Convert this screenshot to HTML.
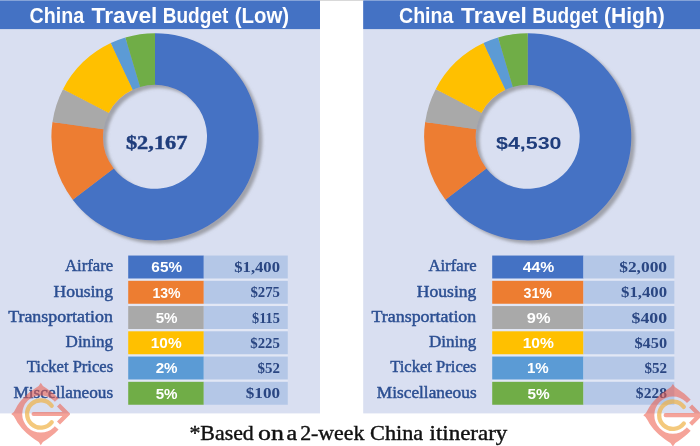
<!DOCTYPE html>
<html><head><meta charset="utf-8"><title>China Travel Budget</title>
<style>
html,body{margin:0;padding:0;}
body{width:700px;height:446px;background:#fff;position:relative;overflow:hidden;font-family:"Liberation Sans",sans-serif;}
svg{position:absolute;left:0;top:0;display:block;}
text{white-space:pre;}
.tt{font-family:"Liberation Sans",sans-serif;font-weight:bold;font-size:22.6px;fill:#fff;}
.lb{font-family:"Liberation Serif",serif;font-size:16.2px;fill:#2C4F92;stroke:#2C4F92;stroke-width:0.45px;}
.pc{font-family:"Liberation Sans",sans-serif;font-weight:bold;font-size:14px;fill:#fff;}
.vl{font-family:"Liberation Serif",serif;font-weight:bold;font-size:13.7px;fill:#2A4682;}
.ct{font-family:"Liberation Sans",sans-serif;font-weight:bold;font-size:17px;fill:#1F3D7C;}
.cs{font-family:"Liberation Serif",serif;font-weight:bold;font-size:18.2px;fill:#1F3D7C;stroke:#1F3D7C;stroke-width:0.4px;}
.ft{font-family:"Liberation Serif",serif;font-size:20.5px;fill:#111;stroke:#111;stroke-width:0.4px;}
</style></head>
<body>
<svg width="700" height="446" viewBox="0 0 700 446">
<defs>
<filter id="sh" x="-10%" y="-10%" width="125%" height="125%">
<feDropShadow dx="3.8" dy="3.2" stdDeviation="1.6" flood-color="#7c7c80" flood-opacity="0.62"/>
</filter>
<mask id="lm" maskUnits="userSpaceOnUse" x="-40" y="-40" width="80" height="80"><rect x="-40" y="-40" width="80" height="80" fill="#fff"/><path d="M0 0 L40 -35 V35Z" fill="#000"/></mask>
</defs>
<rect x="0" y="0" width="320" height="413.4" fill="#D9DFF1"/>
<rect x="363.2" y="0" width="336.8" height="413.4" fill="#D9DFF1"/>
<rect x="0" y="0" width="320" height="29.1" fill="#4472C4"/>
<rect x="363.2" y="0" width="336.8" height="29.1" fill="#4472C4"/>
<g filter="url(#sh)">
<path d="M155.00 33.20A103.6 103.6 0 1 1 72.72 199.75L113.70 168.40A52.0 52.0 0 1 0 155.00 84.80Z" fill="#4472C4"/>
<path d="M72.72 199.75A103.6 103.6 0 0 1 52.48 121.91L103.54 129.33A52.0 52.0 0 0 0 113.70 168.40Z" fill="#ED7D31"/>
<path d="M52.48 121.91A103.6 103.6 0 0 1 63.00 89.17L108.82 112.89A52.0 52.0 0 0 0 103.54 129.33Z" fill="#A9A9A9"/>
<path d="M63.00 89.17A103.6 103.6 0 0 1 110.81 43.10L132.82 89.77A52.0 52.0 0 0 0 108.82 112.89Z" fill="#FFC000"/>
<path d="M110.81 43.10A103.6 103.6 0 0 1 125.38 37.52L140.13 86.97A52.0 52.0 0 0 0 132.82 89.77Z" fill="#5B9BD5"/>
<path d="M125.38 37.52A103.6 103.6 0 0 1 155.00 33.20L155.00 84.80A52.0 52.0 0 0 0 140.13 86.97Z" fill="#70AD47"/>
</g>
<g filter="url(#sh)">
<path d="M527.70 33.20A103.6 103.6 0 1 1 445.42 199.75L486.40 168.40A52.0 52.0 0 1 0 527.70 84.80Z" fill="#4472C4"/>
<path d="M445.42 199.75A103.6 103.6 0 0 1 425.18 121.91L476.24 129.33A52.0 52.0 0 0 0 486.40 168.40Z" fill="#ED7D31"/>
<path d="M425.18 121.91A103.6 103.6 0 0 1 435.70 89.17L481.52 112.89A52.0 52.0 0 0 0 476.24 129.33Z" fill="#A9A9A9"/>
<path d="M435.70 89.17A103.6 103.6 0 0 1 483.51 43.10L505.52 89.77A52.0 52.0 0 0 0 481.52 112.89Z" fill="#FFC000"/>
<path d="M483.51 43.10A103.6 103.6 0 0 1 498.08 37.52L512.83 86.97A52.0 52.0 0 0 0 505.52 89.77Z" fill="#5B9BD5"/>
<path d="M498.08 37.52A103.6 103.6 0 0 1 527.70 33.20L527.70 84.80A52.0 52.0 0 0 0 512.83 86.97Z" fill="#70AD47"/>
</g>
<rect x="128.2" y="256.55" width="159.6" height="147.20" fill="#E2E7F5"/>
<rect x="128.2" y="255.55" width="75.6" height="22.95" fill="#4472C4"/>
<rect x="203.8" y="255.55" width="84.0" height="22.95" fill="#B4C7E7"/>
<rect x="128.2" y="280.80" width="75.6" height="22.95" fill="#ED7D31"/>
<rect x="203.8" y="280.80" width="84.0" height="22.95" fill="#B4C7E7"/>
<rect x="128.2" y="306.05" width="75.6" height="22.95" fill="#A9A9A9"/>
<rect x="203.8" y="306.05" width="84.0" height="22.95" fill="#B4C7E7"/>
<rect x="128.2" y="331.30" width="75.6" height="22.95" fill="#FFC000"/>
<rect x="203.8" y="331.30" width="84.0" height="22.95" fill="#B4C7E7"/>
<rect x="128.2" y="356.55" width="75.6" height="22.95" fill="#5B9BD5"/>
<rect x="203.8" y="356.55" width="84.0" height="22.95" fill="#B4C7E7"/>
<rect x="128.2" y="381.80" width="75.6" height="22.95" fill="#70AD47"/>
<rect x="203.8" y="381.80" width="84.0" height="22.95" fill="#B4C7E7"/>
<rect x="492.2" y="256.55" width="182.2" height="147.20" fill="#E2E7F5"/>
<rect x="492.2" y="255.55" width="91.3" height="22.95" fill="#4472C4"/>
<rect x="583.5" y="255.55" width="90.9" height="22.95" fill="#B4C7E7"/>
<rect x="492.2" y="280.80" width="91.3" height="22.95" fill="#ED7D31"/>
<rect x="583.5" y="280.80" width="90.9" height="22.95" fill="#B4C7E7"/>
<rect x="492.2" y="306.05" width="91.3" height="22.95" fill="#A9A9A9"/>
<rect x="583.5" y="306.05" width="90.9" height="22.95" fill="#B4C7E7"/>
<rect x="492.2" y="331.30" width="91.3" height="22.95" fill="#FFC000"/>
<rect x="583.5" y="331.30" width="90.9" height="22.95" fill="#B4C7E7"/>
<rect x="492.2" y="356.55" width="91.3" height="22.95" fill="#5B9BD5"/>
<rect x="583.5" y="356.55" width="90.9" height="22.95" fill="#B4C7E7"/>
<rect x="492.2" y="381.80" width="91.3" height="22.95" fill="#70AD47"/>
<rect x="583.5" y="381.80" width="90.9" height="22.95" fill="#B4C7E7"/>
<g opacity="0.999">
<text class="tt" transform="translate(29.51 22.90) scale(0.8699 1)">China</text>
<text class="tt" transform="translate(91.57 22.90) scale(1.0082 1)">Travel</text>
<text class="tt" transform="translate(162.66 22.90) scale(0.8440 1)">Budget</text>
<text class="tt" transform="translate(234.78 22.90) scale(0.9030 1)">(Low)</text>
<text class="tt" transform="translate(399.02 22.90) scale(0.8667 1)">China</text>
<text class="tt" transform="translate(461.07 22.90) scale(1.0082 1)">Travel</text>
<text class="tt" transform="translate(532.16 22.90) scale(0.8440 1)">Budget</text>
<text class="tt" transform="translate(604.05 22.90) scale(0.9310 1)">(High)</text>
<text class="lb" transform="translate(65.02 271.45) scale(1.0317 1)">Airfare</text>
<text class="lb" transform="translate(428.42 271.45) scale(1.0317 1)">Airfare</text>
<text class="lb" transform="translate(53.46 296.70) scale(1.0837 1)">Housing</text>
<text class="lb" transform="translate(416.86 296.70) scale(1.0837 1)">Housing</text>
<text class="lb" transform="translate(8.13 321.95) scale(1.1058 1)">Transportation</text>
<text class="lb" transform="translate(371.53 321.95) scale(1.1058 1)">Transportation</text>
<text class="lb" transform="translate(65.57 347.20) scale(1.0529 1)">Dining</text>
<text class="lb" transform="translate(428.97 347.20) scale(1.0529 1)">Dining</text>
<text class="lb" transform="translate(26.75 372.45) scale(1.0245 1)">Ticket Prices</text>
<text class="lb" transform="translate(390.15 372.45) scale(1.0245 1)">Ticket Prices</text>
<text class="lb" transform="translate(13.47 397.70) scale(1.0667 1)">Miscellaneous</text>
<text class="lb" transform="translate(376.87 397.70) scale(1.0667 1)">Miscellaneous</text>
<text class="pc" transform="translate(151.36 272.45) scale(1.0959 1)">65%</text>
<text class="pc" transform="translate(522.76 272.45) scale(1.1248 1)">44%</text>
<text class="pc" transform="translate(152.46 297.70) scale(1.0059 1)">13%</text>
<text class="pc" transform="translate(523.51 297.70) scale(1.0182 1)">31%</text>
<text class="pc" transform="translate(155.64 322.95) scale(1.0834 1)">5%</text>
<text class="pc" transform="translate(526.81 322.95) scale(1.1707 1)">9%</text>
<text class="pc" transform="translate(150.77 348.20) scale(1.1027 1)">10%</text>
<text class="pc" transform="translate(522.66 348.20) scale(1.1176 1)">10%</text>
<text class="pc" transform="translate(155.64 373.45) scale(1.0834 1)">2%</text>
<text class="pc" transform="translate(527.00 373.45) scale(1.0758 1)">1%</text>
<text class="pc" transform="translate(155.64 398.70) scale(1.0834 1)">5%</text>
<text class="pc" transform="translate(527.44 398.70) scale(1.0988 1)">5%</text>
<text class="vl" transform="translate(234.32 272.20) scale(1.2120 1)">$1,400</text>
<text class="vl" transform="translate(619.19 272.20) scale(1.2719 1)">$2,000</text>
<text class="vl" transform="translate(250.38 297.45) scale(1.0779 1)">$275</text>
<text class="vl" transform="translate(621.11 297.45) scale(1.2202 1)">$1,400</text>
<text class="vl" transform="translate(252.00 322.70) scale(1.0473 1)">$115</text>
<text class="vl" transform="translate(631.58 322.70) scale(1.2972 1)">$400</text>
<text class="vl" transform="translate(250.28 347.95) scale(1.0817 1)">$225</text>
<text class="vl" transform="translate(634.43 347.95) scale(1.1913 1)">$450</text>
<text class="vl" transform="translate(257.58 373.20) scale(1.0910 1)">$52</text>
<text class="vl" transform="translate(644.47 373.20) scale(1.1013 1)">$52</text>
<text class="vl" transform="translate(245.80 398.45) scale(1.2481 1)">$100</text>
<text class="vl" transform="translate(635.86 398.45) scale(1.1354 1)">$228</text>
<text class="cs" transform="translate(125.92 148.60) scale(1.2314 1)">$2,167</text>
<text class="ct" transform="translate(495.99 149.00) scale(1.2614 1)">$4,530</text>
<text class="ft" transform="translate(189.42 439.70) scale(1.0672 1)">*Based</text>
<text class="ft" transform="translate(258.09 439.70) scale(1.2632 1)">on</text>
<text class="ft" transform="translate(286.56 439.70) scale(1.1707 1)">a</text>
<text class="ft" transform="translate(300.13 439.70) scale(1.0654 1)">2-week</text>
<text class="ft" transform="translate(370.11 439.70) scale(1.0841 1)">China</text>
<text class="ft" transform="translate(429.54 439.70) scale(1.1213 1)">itinerary</text>
</g>
<rect x="0" y="0" width="700" height="0.7" fill="#fff" fill-opacity="0.5"/><rect x="320" y="0" width="43.2" height="0.7" fill="#bbb" fill-opacity="0.8"/>
<g transform="translate(40.8 414)"><g opacity="0.56" fill="#EE5B4A" stroke="none">
<path mask="url(#lm)" fill-rule="evenodd" d="M0.0 -31.2 Q1.6 -27.3 5.6 -25.7 C9.2 -23.4 13.4 -20.0 16.6 -16.8 C19.8 -13.6 23.2 -9.4 25.0 -5.6 Q26.4 -1.6 29.6 0.0 Q26.4 1.6 25.0 5.6 C23.2 9.4 19.8 13.6 16.6 16.8 C13.4 20.0 9.2 23.4 5.6 25.7 Q1.6 27.3 0.0 31.2 Q-1.6 27.3 -5.6 25.7 C-9.2 23.4 -13.4 20.0 -16.6 16.8 C-19.8 13.6 -23.2 9.4 -25.0 5.6 Q-26.4 1.6 -29.6 0.0 Q-26.4 -1.6 -25.0 -5.6 C-23.2 -9.4 -19.8 -13.6 -16.6 -16.8 C-13.4 -20.0 -9.2 -23.4 -5.6 -25.7 Q-1.6 -27.3 0.0 -31.2 Z M18.6 0 A18.6 18.6 0 1 0 -18.6 0 A18.6 18.6 0 1 0 18.6 0Z"/>
<path d="M-7.2 -2.1 H21.6 L16.2 -7.6 L19.2 -10.6 L29.200000000000003 -0.5 V0.5 L19.2 10.6 L16.2 7.6 L21.6 2.1 H-7.2 A2.1 2.1 0 0 1 -7.2 -2.1Z"/>
</g>
<path d="M10.9 -8.3 A13.7 13.7 0 1 0 10.9 8.3" fill="none" stroke="#EFB040" stroke-opacity="0.68" stroke-width="4.3" stroke-linecap="round"/>
</g>
<g transform="translate(672.9 415.2)"><g opacity="0.56" fill="#EE5B4A" stroke="none">
<path mask="url(#lm)" fill-rule="evenodd" d="M0.0 -31.2 Q1.6 -27.3 5.6 -25.7 C9.2 -23.4 13.4 -20.0 16.6 -16.8 C19.8 -13.6 23.2 -9.4 25.0 -5.6 Q26.4 -1.6 29.6 0.0 Q26.4 1.6 25.0 5.6 C23.2 9.4 19.8 13.6 16.6 16.8 C13.4 20.0 9.2 23.4 5.6 25.7 Q1.6 27.3 0.0 31.2 Q-1.6 27.3 -5.6 25.7 C-9.2 23.4 -13.4 20.0 -16.6 16.8 C-19.8 13.6 -23.2 9.4 -25.0 5.6 Q-26.4 1.6 -29.6 0.0 Q-26.4 -1.6 -25.0 -5.6 C-23.2 -9.4 -19.8 -13.6 -16.6 -16.8 C-13.4 -20.0 -9.2 -23.4 -5.6 -25.7 Q-1.6 -27.3 0.0 -31.2 Z M18.6 0 A18.6 18.6 0 1 0 -18.6 0 A18.6 18.6 0 1 0 18.6 0Z"/>
<path d="M-7.2 -2.1 H21.6 L16.2 -7.6 L19.2 -10.6 L29.200000000000003 -0.5 V0.5 L19.2 10.6 L16.2 7.6 L21.6 2.1 H-7.2 A2.1 2.1 0 0 1 -7.2 -2.1Z"/>
</g>
<path d="M10.9 -8.3 A13.7 13.7 0 1 0 10.9 8.3" fill="none" stroke="#EFB040" stroke-opacity="0.68" stroke-width="4.3" stroke-linecap="round"/>
</g>
</svg>
</body></html>
